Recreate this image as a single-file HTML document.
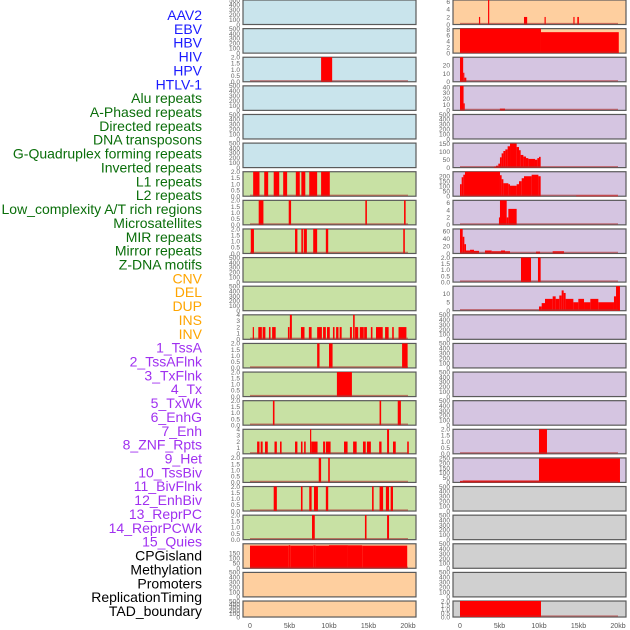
<!DOCTYPE html>
<html><head><meta charset="utf-8"><style>
html,body{margin:0;padding:0;background:#fff;}
svg{display:block;font-family:"Liberation Sans",sans-serif;}
</style></head><body>
<svg id="chart" width="630" height="630" viewBox="0 0 630 630" xmlns="http://www.w3.org/2000/svg"></svg>
<script>
// ---- labels ----
const trackLabels = ["AAV2","EBV","HBV","HIV","HPV","HTLV-1","Alu repeats","A-Phased repeats","Directed repeats","DNA transposons","G-Quadruplex forming repeats","Inverted repeats","L1 repeats","L2 repeats","Low_complexity A/T rich regions","Microsatellites","MIR repeats","Mirror repeats","Z-DNA motifs","CNV","DEL","DUP","INS","INV","1_TssA","2_TssAFlnk","3_TxFlnk","4_Tx","5_TxWk","6_EnhG","7_Enh","8_ZNF_Rpts","9_Het","10_TssBiv","11_BivFlnk","12_EnhBiv","13_ReprPC","14_ReprPCWk","15_Quies","CPGisland","Methylation","Promoters","ReplicationTiming","TAD_boundary"];
const labelColors = ["#1a1aff","#1a1aff","#1a1aff","#1a1aff","#1a1aff","#1a1aff","#0a6e0a","#0a6e0a","#0a6e0a","#0a6e0a","#0a6e0a","#0a6e0a","#0a6e0a","#0a6e0a","#0a6e0a","#0a6e0a","#0a6e0a","#0a6e0a","#0a6e0a","#ffa500","#ffa500","#ffa500","#ffa500","#ffa500","#a030f0","#a030f0","#a030f0","#a030f0","#a030f0","#a030f0","#a030f0","#a030f0","#a030f0","#a030f0","#a030f0","#a030f0","#a030f0","#a030f0","#a030f0","#000","#000","#000","#000","#000"];
// ---- x ticks ----
const xTickValues = [0,5,10,15,20];
const xTickLabels = ["0","5kb","10kb","15kb","20kb"];
// ---- panel y maxima & ticks ----
const leftYMax = [500,500,2,500,500,500,2,2,2,500,500,4,2,2,2,4,2,2,2,240,500,500];
const rightYMax = [6.5,8.3,30,42,500,155,245,6.6,66,2,14.5,500,500,500,500,2,255,500,500,500,500,2];
const leftTicks = [[0,100,200,300,400,500],[0,100,200,300,400,500],[0,0.5,1,1.5,2],[0,100,200,300,400,500],[0,100,200,300,400,500],[0,100,200,300,400,500],[0,0.5,1,1.5,2],[0,0.5,1,1.5,2],[0,0.5,1,1.5,2],[0,100,200,300,400,500],[0,100,200,300,400,500],[0,1,2,3,4],[0,0.5,1,1.5,2],[0,0.5,1,1.5,2],[0,0.5,1,1.5,2],[0,1,2,3,4],[0,0.5,1,1.5,2],[0,0.5,1,1.5,2],[0,0.5,1,1.5,2],[0,50,100,150],[0,100,200,300,400,500],[0,100,200,300,400,500]];
const rightTicks = [[0,2,4,6],[0,2,4,6,8],[0,10,20],[0,10,20,30,40],[0,100,200,300,400,500],[0,50,100,150],[0,50,100,150,200],[0,2,4,6],[0,20,40,60],[0,0.5,1,1.5,2],[0,5,10],[0,100,200,300,400,500],[0,100,200,300,400,500],[0,100,200,300,400,500],[0,100,200,300,400,500],[0,0.5,1,1.5,2],[0,50,100,150,200,250],[0,100,200,300,400,500],[0,100,200,300,400,500],[0,100,200,300,400,500],[0,100,200,300,400,500],[0,0.5,1,1.5,2]];
const leftBg = ["#c9e4ec","#c9e4ec","#c9e4ec","#c9e4ec","#c9e4ec","#c9e4ec","#c8e1a4","#c8e1a4","#c8e1a4","#c8e1a4","#c8e1a4","#c8e1a4","#c8e1a4","#c8e1a4","#c8e1a4","#c8e1a4","#c8e1a4","#c8e1a4","#c8e1a4","#fecf9f","#fecf9f","#fecf9f"];
const rightBg = ["#fecf9f","#fecf9f","#d5c5e1","#d5c5e1","#d5c5e1","#d5c5e1","#d5c5e1","#d5c5e1","#d5c5e1","#d5c5e1","#d5c5e1","#d5c5e1","#d5c5e1","#d5c5e1","#d5c5e1","#d5c5e1","#d5c5e1","#d0d0d0","#d0d0d0","#d0d0d0","#d0d0d0","#d0d0d0"];
// ---- segments [startKb, endKb, value] ----
const leftHIV = [[9.0,10.4,2]];
const leftL1 = [[0.4,1.2,2],[1.8,2.3,2],[3.0,3.7,2],[4.2,4.7,2],[5.8,6.3,2],[6.5,7.0,2],[7.5,8.5,2],[9.0,10.1,2]];
const leftL2 = [[1.1,1.7,2],[4.9,5.2,2],[14.6,14.8,2],[19.5,19.7,2]];
const leftLowComp = [[0.1,0.5,2],[5.7,6.0,2],[6.5,6.7,2],[6.8,7.2,2],[8.0,8.5,2],[9.6,9.9,2],[19.4,19.6,2]];
const leftINS = [[0.35,0.5,2],[1.05,1.5,2],[1.6,1.95,2],[2.4,2.6,2],[2.8,3.25,2],[4.8,5.0,2],[5.05,5.3,4],[6.45,6.9,2],[7.45,7.8,2],[8.5,9.1,2],[9.25,9.6,2],[9.75,10.1,2],[10.5,10.7,2],[10.9,11.2,2],[11.35,11.6,2],[12.65,12.9,2],[13.05,13.25,4],[13.3,13.7,2],[13.9,14.4,2],[14.45,14.8,2],[15.3,15.5,2],[15.95,16.8,2],[17.1,17.55,2],[18.0,18.2,2],[18.8,19.8,2]];
const leftTssAFlnk = [[8.5,8.8,2],[10.0,10.45,2],[19.25,19.95,2]];
const leftTx = [[11.0,12.9,2]];
const leftEnhG = [[2.9,3.1,2],[16.4,16.6,2],[18.7,19.1,2]];
const leftZNF = [[0.9,1.2,2],[1.35,1.6,2],[1.9,2.25,2],[3.1,3.4,2],[3.8,4.0,2],[5.7,6.0,2],[6.45,6.65,2],[6.85,7.05,2],[7.6,7.75,4],[7.75,8.55,2],[9.25,9.5,2],[9.6,10.2,2],[11.9,12.35,2],[13.05,13.5,2],[14.3,14.65,2],[14.8,15.3,2],[16.35,16.65,2],[17.35,17.6,4],[18.1,18.45,2],[19.9,20.1,2]];
const leftTssBiv = [[8.7,9.0,2],[9.9,10.1,2]];
const leftEnhBiv = [[3.0,3.4,2],[6.45,6.65,2],[7.5,7.8,2],[8.1,8.6,2],[9.6,9.9,2],[15.45,15.65,2],[16.4,16.85,2],[17.2,17.6,2],[17.8,18.1,2]];
const leftReprPCWk = [[7.85,8.2,2],[14.55,14.75,2],[17.35,17.6,2]];
const leftCpG = [[0,4.9,222],[4.9,5.1,226],[5.1,8.0,222],[8.0,8.3,225],[8.3,10.0,222],[10.0,12.4,226],[12.4,14.2,225],[14.2,19.9,222]];
const rightAAV2 = [[2.4,2.55,2],[3.55,3.7,6.5],[8.1,8.5,2],[10.7,10.85,2],[14.35,14.5,2],[14.85,15.05,2]];
const rightEBV = [[0,10.25,8.3],[10.25,20.1,7.1]];
const rightHIV = [[0,0.4,30],[0.4,0.55,11],[0.55,0.8,5]];
const rightHPV = [[0,0.45,42],[0.45,0.6,12],[5.05,5.7,3]];
const rightGQuad = [[4.3,4.56,5],[4.56,4.85,12],[4.85,5.06,25],[5.06,5.27,65],[5.27,5.49,90],[5.49,5.74,105],[5.74,6.03,115],[6.03,6.33,135],[6.33,7.17,152],[7.17,7.47,130],[7.47,7.68,110],[7.68,8.02,80],[8.02,8.35,70],[8.35,8.65,60],[8.65,9.49,55],[9.49,9.79,50],[9.79,10.0,60],[10.0,10.21,68]];
const rightL1 = [[0,0.21,120],[0.21,0.42,190],[0.42,0.63,215],[0.63,5.06,245],[5.06,5.27,210],[5.27,5.49,170],[5.49,6.12,130],[6.12,6.33,120],[6.33,7.17,105],[7.17,7.47,120],[7.47,7.81,150],[7.81,8.1,180],[8.1,9.07,200],[9.07,9.92,215],[9.92,10.21,200],[14.7,20.0,6]];
const rightL2 = [[4.93,5.06,2],[5.06,5.91,6.6],[5.91,6.12,2],[6.12,7.17,4.3]];
const rightMicro = [[0,0.34,66],[0.34,0.55,45],[0.55,0.76,25],[0.76,1.27,8],[1.27,1.77,10],[1.77,2.41,7],[3.16,4.01,8],[4.01,5.19,6],[5.19,5.7,8],[5.7,6.33,6],[9.62,10.13,5],[11.73,13.16,6]];
const rightMIR = [[7.72,8.99,2],[9.87,10.21,2]];
const rightDUP = [[10.0,10.34,2.5],[10.34,10.76,4.5],[10.76,11.73,7],[11.73,12.11,8.5],[12.11,12.57,7],[12.57,12.87,9],[12.87,13.12,12],[13.12,13.37,10.5],[13.37,14.35,7],[14.35,14.98,5],[14.98,15.7,7],[15.7,16.5,5],[16.5,17.51,7],[17.51,19.49,5],[19.49,19.75,8.5],[19.75,20.25,14.5]];
const rightHet = [[10.0,11.01,2]];
const rightTssBiv = [[0,0.34,15],[0.34,10.0,20],[10.0,20.25,248]];
const rightTAD = [[0,10.25,2]];

const leftSegs = [[],[],leftHIV,[],[],[],leftL1,leftL2,leftLowComp,[],[],leftINS,leftTssAFlnk,leftTx,leftEnhG,leftZNF,leftTssBiv,leftEnhBiv,leftReprPCWk,leftCpG,[],[]];
const rightSegs = [rightAAV2,rightEBV,rightHIV,rightHPV,[],rightGQuad,rightL1,rightL2,rightMicro,rightMIR,rightDUP,[],[],[],[],rightHet,rightTssBiv,[],[],[],[],rightTAD];

const NS = "http://www.w3.org/2000/svg";
const svg = document.getElementById('chart');
function mk(tag, attrs, parent){
  const e = document.createElementNS(NS, tag);
  for (const k in attrs) e.setAttribute(k, attrs[k]);
  (parent||svg).appendChild(e);
  return e;
}
trackLabels.forEach((t,i)=>{
  const e = mk('text',{x:202,y:(15+i*13.86+5).toFixed(1),'text-anchor':'end','font-size':'14',fill:labelColors[i]});
  e.textContent = t;
  
  
});
function panelTop(i){ return i*28.62; }
function panelH(i){ return i===21 ? 16 : 24.5; }
function fmt(v, ticks){
  const isFrac = ticks.some(t=>t%1!==0);
  return isFrac ? v.toFixed(1) : String(v);
}
function drawPanel(side, i, x0, bg, ymax, ticks, segs){
  const top = panelTop(i), h = panelH(i), w = 173;
  const g = mk('g',{});
  
  
  const r = mk('rect',{x:x0,y:top,width:w,height:h,fill:bg,stroke:'#5a5a5a','stroke-width':1.2},g);
  
  
  const xs = kb => x0+7 + kb*7.9;
  const ys = v => top+h - (v/ymax)*h;
  segs.forEach(s=>{
    const y = ys(s[2]);
    const b = mk('rect',{x:xs(s[0]).toFixed(2),y:Math.max(top,y).toFixed(2),width:Math.max(0.9,xs(s[1])-xs(s[0])).toFixed(2),height:(top+h-Math.max(top,y)).toFixed(2),fill:'#ff0000'},g);
    
    
  });
  if (segs.length){
    const l = mk('line',{x1:xs(0),x2:xs(20),y1:top+h-1,y2:top+h-1,stroke:'#b03030','stroke-opacity':0.6,'stroke-width':1.3},g);
    
    
  }
  ticks.forEach(t=>{
    const e = mk('text',{x:x0-3,y:(ys(t)+2.3).toFixed(1),'text-anchor':'end','font-size':'6.6',fill:'#666'},g);
    e.textContent = fmt(t,ticks);
    
    
  });
}
for (let i=0;i<22;i++){
  drawPanel('left', i, 243, leftBg[i], leftYMax[i], leftTicks[i], leftSegs[i]);
  drawPanel('right', i, 453, rightBg[i], rightYMax[i], rightTicks[i], rightSegs[i]);
}
[243,453].forEach((x0,k)=>{
  xTickValues.forEach((v,j)=>{
    const e = mk('text',{x:(x0+7+v*7.9).toFixed(1),y:628,'text-anchor':'middle','font-size':'7',fill:'#555'});
    e.textContent = xTickLabels[j];
    
    
  });
});
</script>
</body></html>
